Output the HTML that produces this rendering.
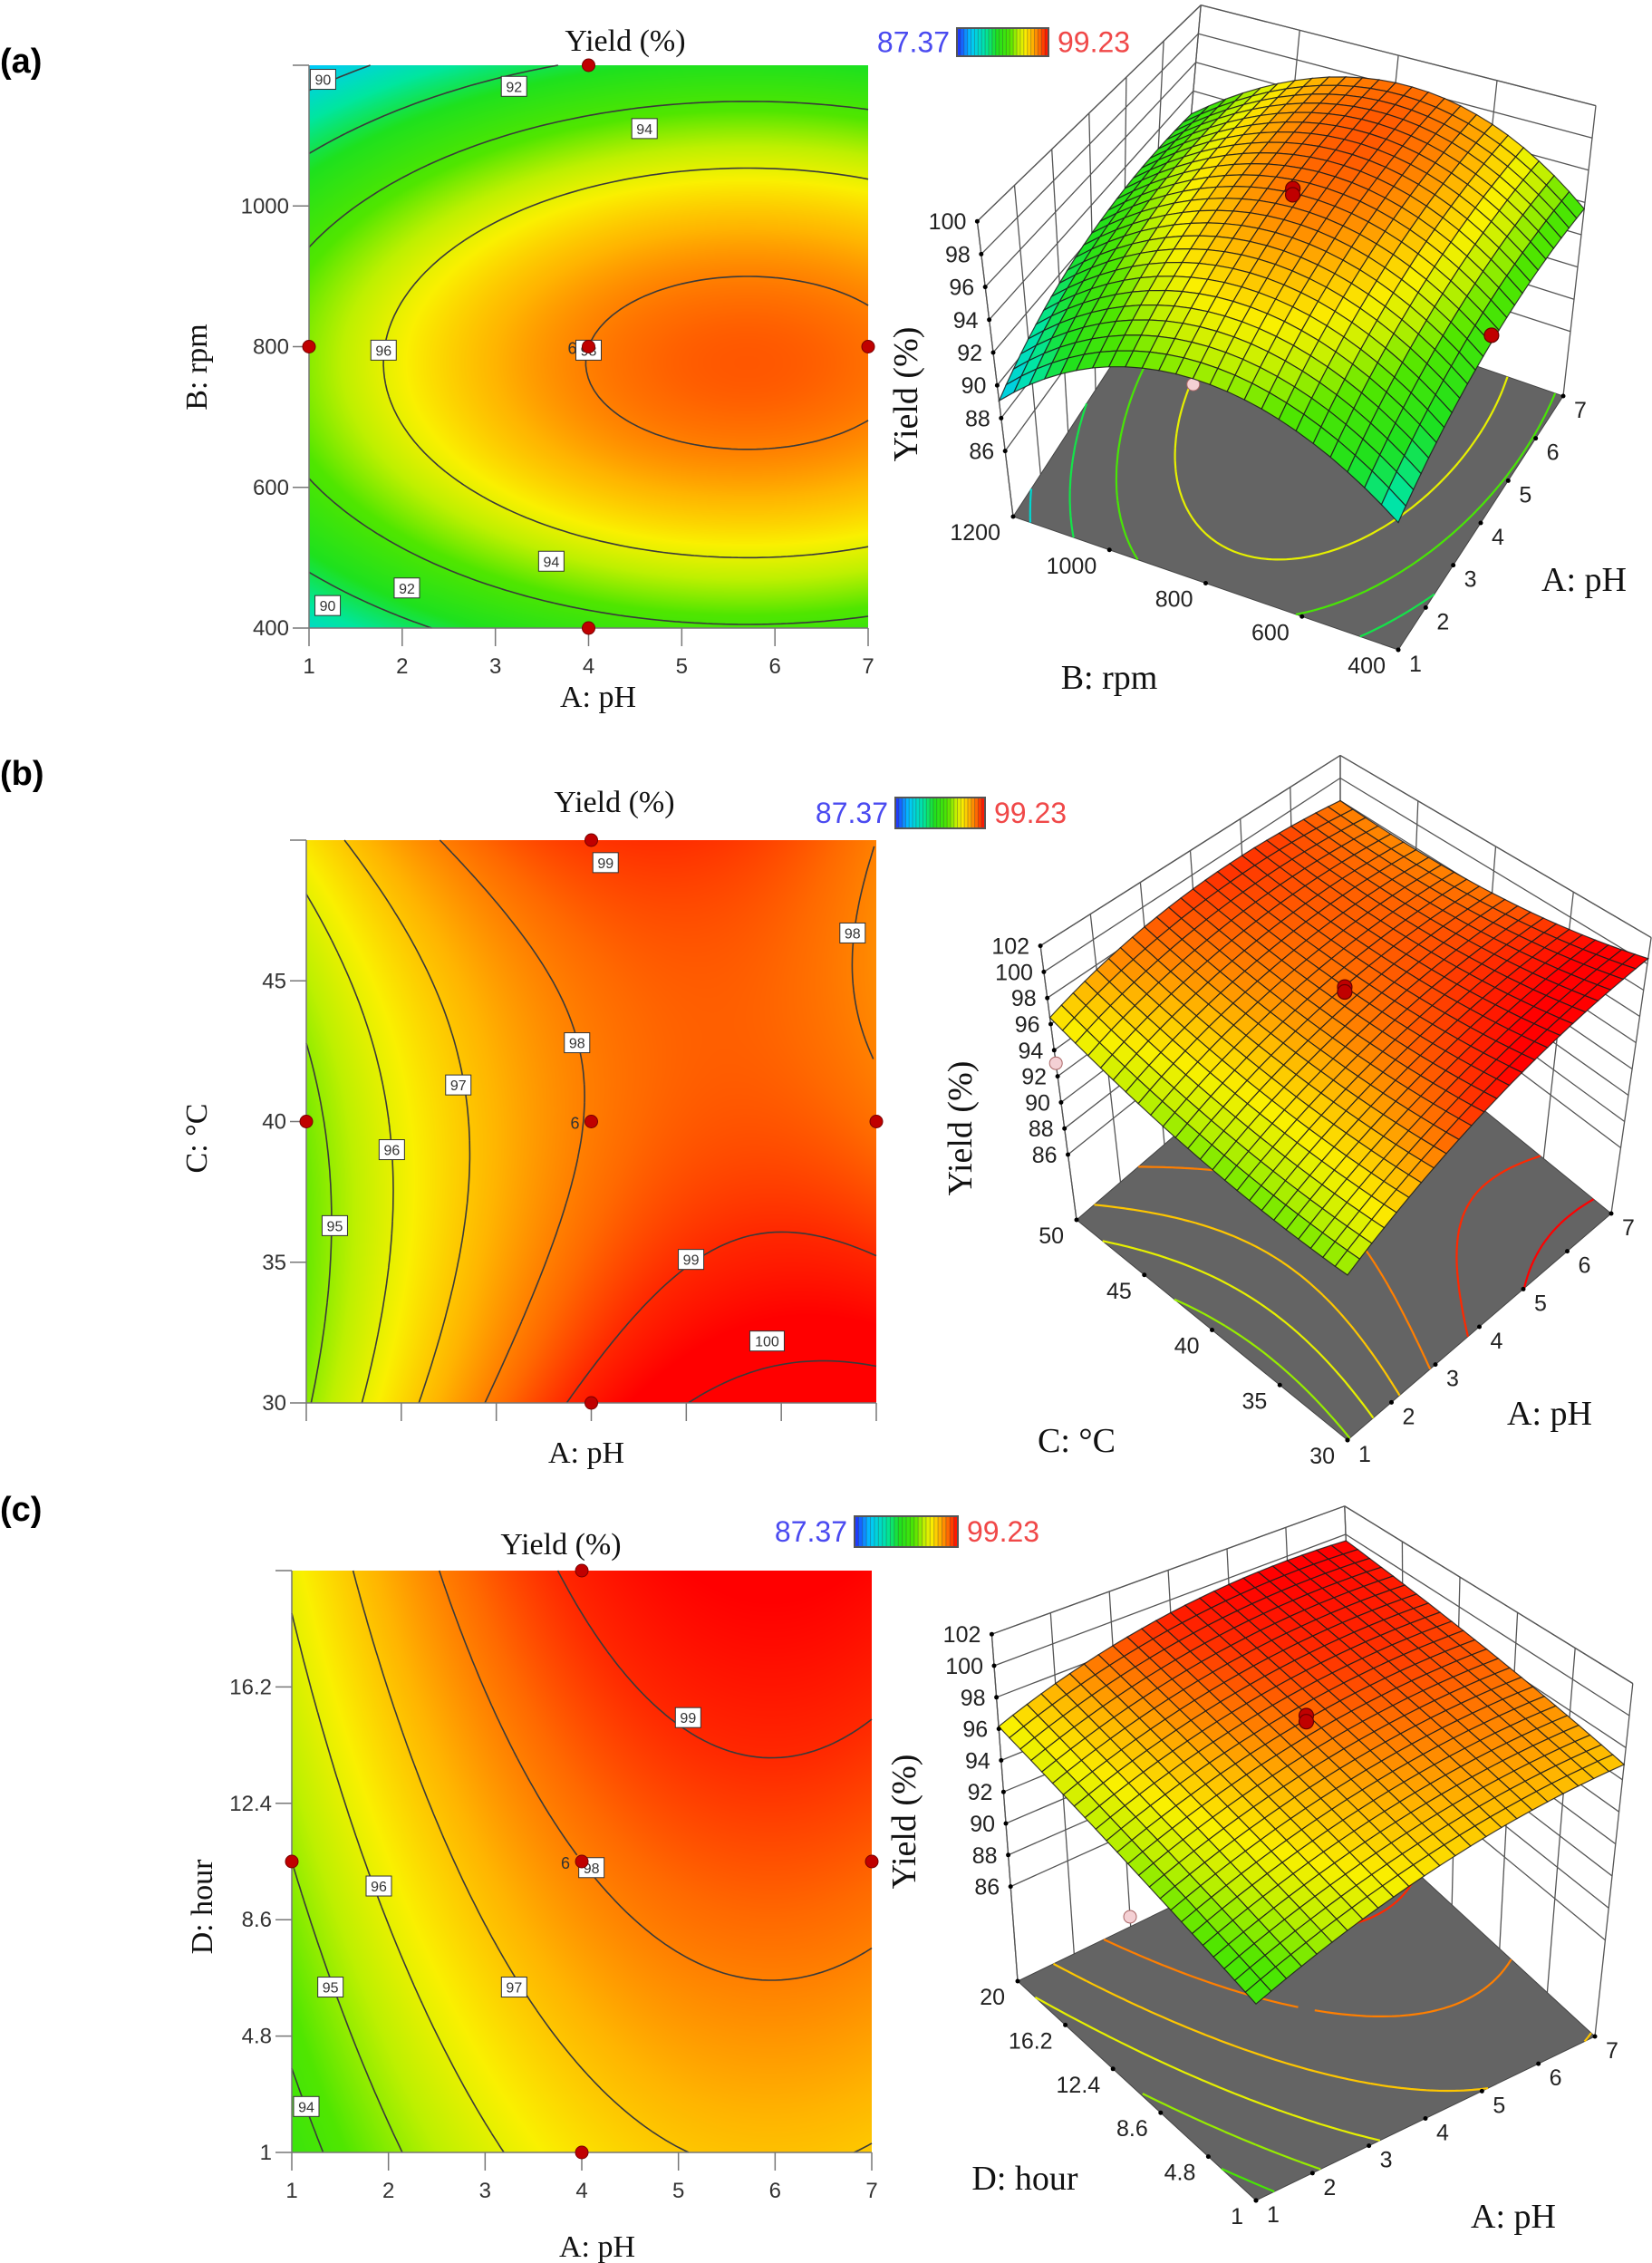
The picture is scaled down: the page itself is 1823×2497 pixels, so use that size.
<!DOCTYPE html>
<html><head><meta charset="utf-8">
<style>
html,body{margin:0;padding:0;background:#fff;}
#page{position:relative;width:1823px;height:2497px;overflow:hidden;background:#fff;}
canvas{position:absolute;}
svg{position:absolute;left:0;top:0;}
</style></head>
<body>
<div id="page">
<canvas id="fillA"></canvas>
<canvas id="fillB"></canvas>
<canvas id="fillC"></canvas>
<svg id="svg" width="1823" height="2497" viewBox="0 0 1823 2497"></svg>
</div>
<script>
// ---- data (quadratic response-surface coefficients: b0,bA,bB,bAA,bBB,bAB in coded units) ----
const coefA = [98.0, 1.67, -0.6, -1.47, -5.2, 0.0];
const coefB = [98.05, 1.75, -0.2, -1.6, 1.0, -1.0];
const coefC = [98.0, 1.7, 1.3, -1.3, -0.15, 0.0];
const levelsA = [90, 92, 94, 96, 98];
const floorLevelsA = [90, 92, 94, 96];
const levelsB = [95, 96, 97, 98, 99, 100];
const levelsC = [94, 95, 96, 97, 98, 99];
const phTicks = [1, 2, 3, 4, 5, 6, 7];
const rpmTicks = [400, 600, 800, 1000, 1200];
const tempTicks = [30, 35, 40, 45, 50];
const hourTicks = [1, 4.8, 8.6, 12.4, 16.2, 20];
const zTicksA = [86, 88, 90, 92, 94, 96, 98, 100];
const zTicksBC = [86, 88, 90, 92, 94, 96, 98, 100, 102];
const labelsA = [[1.15,1180,'90'],[3.2,1170,'92'],[4.6,1110,'94'],[1.8,795,'96'],[4.0,795,'98'],[3.6,495,'94'],[2.05,457,'92'],[1.2,432,'90']];
const labelsB = [[4.15,49.2,'99'],[6.75,46.7,'98'],[3.85,42.8,'98'],[2.6,41.3,'97'],[1.9,39.0,'96'],[1.3,36.3,'95'],[5.05,35.1,'99'],[5.85,32.2,'100']];
const labelsC = [[5.1,15.2,'99'],[4.1,10.3,'98'],[1.9,9.7,'96'],[3.3,6.4,'97'],[1.4,6.4,'95'],[1.15,2.5,'94']];
const designA = [[1,800],[4,800],[7,800],[4,1200],[4,400]];
const designB = [[1,40],[4,40],[7,40],[4,50],[4,30]];
const designC = [[1,10.5],[4,10.5],[7,10.5],[4,20],[4,1]];
const pts3dA = [[0,0,99.2,'r'],[0,0,98.8,'r'],[0,-1,93.9,'r'],[-1,0,94.5,'p']];
const pts3dB = [[0,0,99.6,'r'],[0,0,99.2,'r'],[-1,1,93.0,'p'],[1,0,95.5,'p']];
const pts3dC = [[0,0,99.4,'r'],[0,0,99.0,'r'],[-1,0,91.5,'p'],[1,0,91.0,'p']];

// ---- helpers ----
const NS='http://www.w3.org/2000/svg';
const svg=document.getElementById('svg');
function mk(tag,attrs,parent){const e=document.createElementNS(NS,tag);for(const k in attrs)e.setAttribute(k,attrs[k]);(parent||svg).appendChild(e);return e;}
function txt(x,y,s,size,anchor,fam,fill,parent,weight){const t=mk('text',{x:x,y:y,'font-size':size,'text-anchor':anchor||'middle','font-family':fam||'"Liberation Sans", sans-serif',fill:fill||'#000','font-weight':weight||'normal'},parent);t.textContent=s;return t;}
function model(c,x,y){return c[0]+c[1]*x+c[2]*y+c[3]*x*x+c[4]*y*y+c[5]*x*y;}
const cmapVals=[87.37,89,91,92.5,94.3,95.4,96.3,97.3,98.3,99.0,99.6];
const cmapCols=[[30,60,255],[0,200,255],[0,230,160],[30,225,30],[80,230,0],[190,240,0],[250,240,0],[255,180,0],[255,105,0],[255,40,0],[255,0,0]];
function cmap(v){if(v<=cmapVals[0])return cmapCols[0];for(let i=1;i<cmapVals.length;i++){if(v<=cmapVals[i]){const f=(v-cmapVals[i-1])/(cmapVals[i]-cmapVals[i-1]);const a=cmapCols[i-1],b=cmapCols[i];return [a[0]+(b[0]-a[0])*f,a[1]+(b[1]-a[1])*f,a[2]+(b[2]-a[2])*f];}}return cmapCols[cmapCols.length-1];}
function rgb(c){return 'rgb('+Math.round(c[0])+','+Math.round(c[1])+','+Math.round(c[2])+')';}
function contourSegs(c,level,N){const segs=[];const h=2/N;for(let i=0;i<N;i++)for(let j=0;j<N;j++){const x0=-1+i*h,y0=-1+j*h,x1=x0+h,y1=y0+h;const v00=model(c,x0,y0),v10=model(c,x1,y0),v11=model(c,x1,y1),v01=model(c,x0,y1);const p=[];
 function e(xa,ya,va,xb,yb,vb){if((va-level)*(vb-level)<0){const f=(level-va)/(vb-va);p.push([xa+(xb-xa)*f,ya+(yb-ya)*f]);}}
 e(x0,y0,v00,x1,y0,v10);e(x1,y0,v10,x1,y1,v11);e(x1,y1,v11,x0,y1,v01);e(x0,y1,v01,x0,y0,v00);
 if(p.length>=2)segs.push([p[0],p[1]]);if(p.length===4)segs.push([p[2],p[3]]);}return segs;}

// ---- 2D contour panel ----
function contour2D(o){
 const g=mk('g',{});
 
 
 const W=o.x1-o.x0,H=o.y1-o.y0;
 const cv=document.getElementById(o.canvas);cv.width=W;cv.height=H;cv.style.left=o.x0+'px';cv.style.top=o.y0+'px';
 const ctx=cv.getContext('2d');const im=ctx.createImageData(W,H);
 for(let py=0;py<H;py++)for(let px=0;px<W;px++){const x=-1+2*px/(W-1),y=1-2*py/(H-1);const col=cmap(model(o.coef,x,y));const k=(py*W+px)*4;im.data[k]=col[0];im.data[k+1]=col[1];im.data[k+2]=col[2];im.data[k+3]=255;}
 ctx.putImageData(im,0,0);
 const sx=x=>o.x0+(x+1)/2*W, sy=y=>o.y1-(y+1)/2*H;
 const ax=a=>sx((a-o.xmin)/(o.xmax-o.xmin)*2-1), ay=b=>sy((b-o.ymin)/(o.ymax-o.ymin)*2-1);
 o.levels.forEach(l=>{let d='';contourSegs(o.coef,l,90).forEach(s=>{d+='M'+sx(s[0][0]).toFixed(1)+' '+sy(s[0][1]).toFixed(1)+'L'+sx(s[1][0]).toFixed(1)+' '+sy(s[1][1]).toFixed(1);});
  const p=mk('path',{d:d,stroke:'#3a3a3a','stroke-width':1.6,fill:'none'},g);
  
  });
 mk('line',{x1:o.x0,y1:o.y0,x2:o.x0,y2:o.y1,stroke:'#777','stroke-width':1.5},g);
 mk('line',{x1:o.x0,y1:o.y1,x2:o.x1,y2:o.y1,stroke:'#777','stroke-width':1.5},g);
 o.xt.forEach(v=>{const X=ax(v);mk('line',{x1:X,y1:o.y1,x2:X,y2:o.y1+20,stroke:'#777','stroke-width':1.5},g);
  if(o.xlab){const t=txt(X,o.y1+50,String(v),24,'middle',null,'#333',g);}});
 o.yt.forEach(v=>{const Y=ay(v);mk('line',{x1:o.x0-18,y1:Y,x2:o.x0,y2:Y,stroke:'#777','stroke-width':1.5},g);
  if(Y>o.y0+5){const t=txt(o.x0-22,Y+8,String(v),24,'end',null,'#333',g);}});
 o.labels.forEach(L=>{const X=ax(L[0]),Y=ay(L[1]);const w=L[2].length*10+8;
  const r=mk('rect',{x:X-w/2,y:Y-11,width:w,height:22,fill:'#fff',stroke:'#333','stroke-width':1},g);
  
  const t=txt(X,Y+6,L[2],16,'middle',null,'#333',g);});
 o.design.forEach(d=>{const c=mk('circle',{cx:ax(d[0]),cy:ay(d[1]),r:7,fill:'#c00000',stroke:'#700',"stroke-width":1},g);
  });
 const six=txt(ax(4)-18,ay(o.center)+8,'6',18,'middle',null,'#333',g);
 let t=txt(o.tx,o.ty,'Yield (%)',34,'middle','"Liberation Serif", serif','#111',g);
 t=txt(o.xtx,o.xty,'A: pH',34,'middle','"Liberation Serif", serif','#111',g);
 t=txt(0,0,o.ytitle,34,'middle','"Liberation Serif", serif','#111',g);t.setAttribute('transform','translate('+o.ytx+','+o.yty+') rotate(-90)');
 t=txt(0,o.py,o.panel,38,'start',null,'#000',g,'bold');
 const cb=mk('g',{});
 t=txt(o.cb[0]-8,o.cb[2]+(o.cb[3]-o.cb[2])/2+11,'87.37',32,'end',null,'#4a4af0',cb);
 const n=26,bw=(o.cb[1]-o.cb[0])/n;
 for(let i=0;i<n;i++){const v=87.37+(99.23-87.37)*i/(n-1);const r=mk('rect',{x:o.cb[0]+i*bw,y:o.cb[2],width:bw+0.5,height:o.cb[3]-o.cb[2],fill:rgb(cmap(v))},cb);
  mk('line',{x1:o.cb[0]+i*bw,y1:o.cb[2],x2:o.cb[0]+i*bw,y2:o.cb[3],stroke:'rgba(60,60,60,0.35)','stroke-width':1},cb);}
 mk('rect',{x:o.cb[0],y:o.cb[2],width:o.cb[1]-o.cb[0],height:o.cb[3]-o.cb[2],fill:'none',stroke:'#555','stroke-width':2},cb);
 t=txt(o.cb[1]+10,o.cb[2]+(o.cb[3]-o.cb[2])/2+11,'99.23',32,'start',null,'#f04848',cb);
}

// ---- 3D surface panel ----
function surf3D(o){
 const g=mk('g',{});
 
 
 function P(s,t,z){const bl=a=>(1-s)*(1-t)*a[0]+s*(1-t)*a[1]+(1-s)*t*a[2]+s*t*a[3];
  const fx=o.F[0]+s*(o.R[0]-o.F[0])+t*(o.L[0]-o.F[0]),fy=o.F[1]+s*(o.R[1]-o.F[1])+t*(o.L[1]-o.F[1]);
  return [fx+(z-o.z0)*bl(o.dx),fy-(z-o.z0)*bl(o.sc)];}
 const ps=a=>(a-1)/6, pt=b=>(b-o.ymin)/(o.ymax-o.ymin);
 const wall=mk('g',{stroke:'#555','stroke-width':1.3,fill:'none'},g);
 
 function ln(a,b,par){return mk('line',{x1:a[0].toFixed(1),y1:a[1].toFixed(1),x2:b[0].toFixed(1),y2:b[1].toFixed(1)},par);}
 o.zt.concat([o.ztop]).forEach(z=>{ln(P(0,1,z),P(1,1,z),wall);ln(P(1,1,z),P(1,0,z),wall);});
 phTicks.forEach(a=>{ln(P(ps(a),1,o.z0),P(ps(a),1,o.ztop),wall);});
 o.yt.forEach(b=>{ln(P(1,pt(b),o.z0),P(1,pt(b),o.ztop),wall);});
 ln(P(0,1,o.z0),P(0,1,o.ztop),wall);
 const fl=[P(0,0,o.z0),P(1,0,o.z0),P(1,1,o.z0),P(0,1,o.z0)];
 const floor=mk('polygon',{points:fl.map(p=>p[0].toFixed(1)+','+p[1].toFixed(1)).join(' '),fill:'#646464',stroke:'#444','stroke-width':1},g);
 
 o.levels.forEach(l=>{let d='';contourSegs(o.coef,l,60).forEach(sg=>{const a=P((sg[0][0]+1)/2,(sg[0][1]+1)/2,o.z0),b=P((sg[1][0]+1)/2,(sg[1][1]+1)/2,o.z0);d+='M'+a[0].toFixed(1)+' '+a[1].toFixed(1)+'L'+b[0].toFixed(1)+' '+b[1].toFixed(1);});
  const p=mk('path',{d:d,stroke:rgb(cmap(l)),'stroke-width':2.2,fill:'none'},g);
  });
 o.pts.filter(q=>q[3]==='p').forEach(q=>{const p=P((q[0]+1)/2,(q[1]+1)/2,q[2]);const c=mk('circle',{cx:p[0],cy:p[1],r:7,fill:'#f4d0d4',stroke:'#a66','stroke-width':1},g);});
 const M=24,quads=[];
 for(let i=0;i<M;i++)for(let j=0;j<M;j++){const s0=i/M,s1=(i+1)/M,t0=j/M,t1=(j+1)/M;const z=(s,t)=>model(o.coef,2*s-1,2*t-1);
  quads.push({k:s0+t0,pts:[P(s0,t0,z(s0,t0)),P(s1,t0,z(s1,t0)),P(s1,t1,z(s1,t1)),P(s0,t1,z(s0,t1))],v:z((s0+s1)/2,(t0+t1)/2)});}
 quads.sort((a,b)=>b.k-a.k);
 const sg=mk('g',{stroke:'#1c1c1c','stroke-width':1.2,'stroke-opacity':0.85},g);
 
 quads.forEach(q=>{const p=mk('polygon',{points:q.pts.map(p=>p[0].toFixed(1)+','+p[1].toFixed(1)).join(' '),fill:rgb(cmap(q.v))},sg);
  });
 o.pts.filter(q=>q[3]==='r').forEach(q=>{const p=P((q[0]+1)/2,(q[1]+1)/2,q[2]);const c=mk('circle',{cx:p[0],cy:p[1],r:8,fill:'#c00000',stroke:'#600','stroke-width':1.2},g);});
 o.zt.forEach(z=>{const p=P(0,1,z);mk('circle',{cx:p[0],cy:p[1],r:2.5,fill:'#000'},g);const t=txt(p[0]-12,p[1]+9,String(z),25,'end',null,'#222',g);});
 o.yt.forEach(b=>{const p=P(0,pt(b),o.z0);mk('circle',{cx:p[0],cy:p[1],r:2.5,fill:'#000'},g);const t=txt(p[0]-14,p[1]+26,String(b),25,'end',null,'#222',g);});
 phTicks.forEach(a=>{const p=P(ps(a),0,o.z0);mk('circle',{cx:p[0],cy:p[1],r:2.5,fill:'#000'},g);const t=txt(p[0]+12,p[1]+24,String(a),25,'start',null,'#222',g);});
 let t=txt(0,0,'Yield (%)',38,'middle','"Liberation Serif", serif','#111',g);t.setAttribute('transform','translate('+o.zl[0]+','+o.zl[1]+') rotate(-90)');
 t=txt(o.yl[0],o.yl[1],o.ytitle,38,'middle','"Liberation Serif", serif','#111',g);
 t=txt(o.xl[0],o.xl[1],'A: pH',38,'middle','"Liberation Serif", serif','#111',g);
}

contour2D({name:'a',canvas:'fillA',coef:coefA,levels:levelsA,x0:341,y0:72,x1:958,y1:693,xmin:1,xmax:7,ymin:400,ymax:1200,xt:phTicks,yt:rpmTicks,xlab:true,labels:labelsA,design:designA,center:800,
 tx:690,ty:56,xtx:660,xty:780,ytitle:'B: rpm',ytx:228,yty:405,panel:'(a)',py:80,cb:[1056,1157,31,62]});
surf3D({name:'a',coef:coefA,F:[1543,717],R:[1725,437],L:[1118,570],sc:[17,17.8,18.1,15.8],dx:[0,2,-2.2,1.4],z0:82,ztop:100,zt:zTicksA,ymin:400,ymax:1200,yt:rpmTicks,levels:floorLevelsA,pts:pts3dA,
 zl:[1012,435],yl:[1224,760],xl:[1748,652],ytitle:'B: rpm'});
contour2D({name:'b',canvas:'fillB',coef:coefB,levels:levelsB,x0:338,y0:927,x1:967,y1:1548,xmin:1,xmax:7,ymin:30,ymax:50,xt:phTicks,yt:tempTicks,xlab:false,labels:labelsB,design:designB,center:40,
 tx:678,ty:896,xtx:647,xty:1614,ytitle:'C: °C',ytx:228,yty:1256,panel:'(b)',py:866,cb:[988,1087,880,914]});
surf3D({name:'b',coef:coefB,F:[1487,1589],R:[1778,1339],L:[1188,1346],sc:[13.1,14.5,14.4,12.5],dx:[0,2.1,-1.9,0],z0:81,ztop:102,zt:zTicksBC,ymin:30,ymax:50,yt:tempTicks,levels:levelsB,pts:pts3dB,
 zl:[1072,1245],yl:[1188,1602],xl:[1710,1572],ytitle:'C: °C'});
contour2D({name:'c',canvas:'fillC',coef:coefC,levels:levelsC,x0:322,y0:1733,x1:962,y1:2375,xmin:1,xmax:7,ymin:1,ymax:20,xt:phTicks,yt:hourTicks,xlab:true,labels:labelsC,design:designC,center:10.5,
 tx:619,ty:1715,xtx:659,xty:2490,ytitle:'D: hour',ytx:234,yty:2104,panel:'(c)',py:1678,cb:[943,1057,1673,1707]});
surf3D({name:'c',coef:coefC,F:[1386,2428],R:[1760,2247],L:[1123,2186],sc:[16,17.7,17.4,15.6],dx:[0,1.9,-1.3,-0.6],z0:80,ztop:102,zt:zTicksBC,ymin:1,ymax:20,yt:hourTicks,levels:levelsC,pts:pts3dC,
 zl:[1010,2010],yl:[1131,2416],xl:[1670,2458],ytitle:'D: hour'});
</script>
</body></html>
